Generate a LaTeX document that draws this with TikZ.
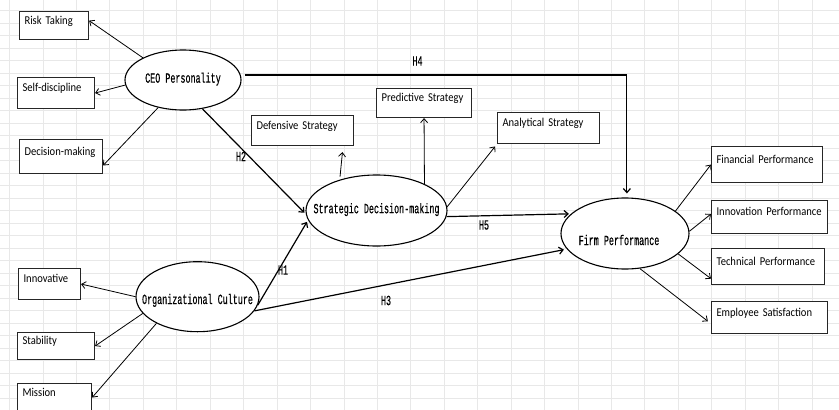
\documentclass[tikz,border=0pt]{standalone}
\usepackage{fontspec}
\newfontfamily\boxfont[FakeStretch=0.88, WordSpace=0.85]{Carlito}
\newfontfamily\ellfont[FakeStretch=0.6, FakeBold=0.4]{Liberation Mono}
\usetikzlibrary{shapes.geometric, arrows.meta}

\begin{document}
\begin{tikzpicture}[x=1pt, y=-1pt, >={Straight Barb[length=4pt,width=7pt]},
  gridline/.style={draw=black!9, line width=0.6pt},
  ind/.style={draw=black!85, fill=white, line width=1.1pt, rectangle, anchor=north west,
    inner xsep=5pt, inner ysep=0pt, align=left, text height=8pt, text depth=11pt,
    font=\boxfont\fontsize{12}{14}\selectfont},
  lat/.style={draw, fill=white, line width=1.1pt, ellipse, inner sep=0pt,
    font=\ellfont\fontsize{14}{16}\selectfont},
  hlab/.style={font=\ellfont\fontsize{14}{16}\selectfont},
  load/.style={->, line width=0.8pt},
  hyp/.style={->, line width=1.2pt, shorten >=2pt}]
  \useasboundingbox (0,0) rectangle (839,410);
  % sheet grid
  \foreach \i in {0,...,24}
    \draw[gridline] (9.5+33.43*\i,0) -- (9.5+33.43*\i,410);
  \foreach \j in {0,...,31}
    \draw[gridline] (0,10.5+12.5*\j) -- (839,10.5+12.5*\j);

  % latent variables
  \node[lat, minimum width=116, minimum height=60] (ceo) at (183,80)
    {\makebox[0pt]{\raisebox{-2.7pt}[0pt][0pt]{CEO Personality}}};
  \node[lat, minimum width=141, minimum height=71] (sdm) at (376.5,210.5)
    {\makebox[0pt]{\raisebox{-2.7pt}[0pt][0pt]{Strategic Decision-making}}};
  \node[lat, minimum width=123, minimum height=70] (oc) at (197.5,296.7)
    {\makebox[0pt]{\raisebox{-7.3pt}[0pt][0pt]{Organizational Culture}}};
  \node[lat, minimum width=128, minimum height=71] (fp) at (625,233.5)
    {\makebox[0pt]{\raisebox{-11.5pt}[0pt][0pt]{Firm Performance\hspace{12pt}}}};

  % indicators
  \node[ind, text width=59pt, minimum height=28] (risk) at (19,11) {Risk Taking};
  \node[ind, text width=67pt, minimum height=31] (self) at (17,77) {Self-discipline};
  \node[ind, text width=73pt, minimum height=34] (dec) at (19,139) {Decision-making};
  \node[ind, text width=92pt, minimum height=30] (def) at (251,115) {Defensive Strategy};
  \node[ind, text width=85pt, minimum height=29] (pred) at (376,88) {Predictive Strategy};
  \node[ind, text width=92pt, minimum height=31] (ana) at (497,112) {Analytical Strategy};
  \node[ind, text width=101pt, minimum height=36] (fin) at (711,146) {Financial Performance};
  \node[ind, text width=106pt, minimum height=33] (inno) at (711,200) {Innovation Performance};
  \node[ind, text width=103pt, minimum height=36] (tech) at (711,248) {Technical Performance};
  \node[ind, text width=106pt, minimum height=32] (emp) at (711,301) {Employee Satisfaction};
  \node[ind, text width=52pt, minimum height=31] (innv) at (18,268) {Innovative};
  \node[ind, text width=67pt, minimum height=27] (stab) at (17,332) {Stability};
  \node[ind, text width=64pt, minimum height=28] (mis) at (17,383) {Mission};

  \draw[load] (ceo.151) -- (risk.8);
  \draw[load] (ceo.185) -- (self.east);
  \draw[load] (ceo.228) -- (dec.-12);
  \draw[load, shorten <=3pt, shorten >=6pt] (sdm.140) -- (def.-21);
  \draw[load] (sdm.29) -- (pred.south);
  \draw[load, shorten >=3pt] (sdm.3) -- (ana.south west);
  \draw[load] (fp.24) -- (fin.west);
  \draw[load] (fp.2) -- (inno.177);
  \draw[load] (fp.-21) -- (tech.192);
  \draw[load, shorten >=4pt] (fp.-67) -- (emp.186);
  \draw[load] (oc.west) -- (innv.east);
  \draw[load] (oc.197) -- (stab.east);
  \draw[load] (oc.213) -- (mis.east);

  % hypotheses
  \draw[hyp] (ceo.-56) -- (sdm.183);
  \draw[hyp, shorten <=4pt, shorten >=4pt] (ceo.5) -| (fp.87);
  \draw[hyp] (sdm.-5) -- (fp.160);
  \draw[hyp] (oc.-8) -- (sdm.188);
  \draw[hyp, shorten >=3pt] (oc.-14) -- (fp.195);
  \node[hlab] (h1) at (283,270) {H1};
  \node[hlab] (h2) at (241,156.5) {H2};
  \node[hlab] (h3) at (386,300.5) {H3};
  \node[hlab] (h4) at (417.5,61) {H4};
  \node[hlab] (h5) at (484,225) {H5};
\end{tikzpicture}
\end{document}
